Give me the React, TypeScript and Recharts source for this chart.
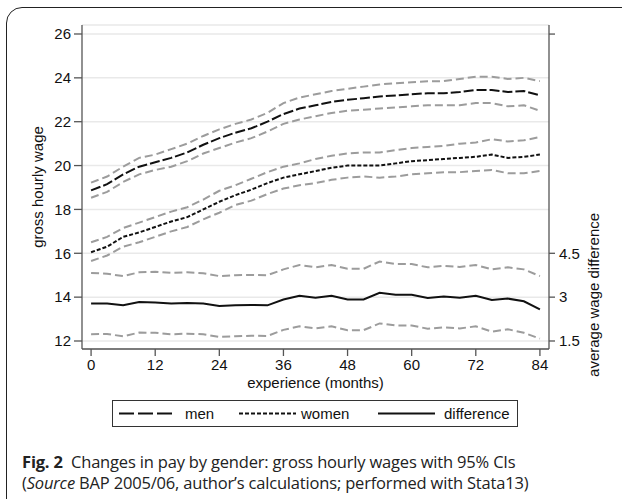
import React from "react";
import { LineChart, Line, XAxis, YAxis, CartesianGrid, Label } from "recharts";

// months, sampled every 3 months
const months = [0, 3, 6, 9, 12, 15, 18, 21, 24, 27, 30, 33, 36, 39, 42, 45, 48, 51, 54, 57, 60, 63, 66, 69, 72, 75, 78, 81, 84];

const men = [18.87, 19.15, 19.6, 19.95, 20.15, 20.35, 20.6, 20.95, 21.25, 21.5, 21.7, 22.0, 22.35, 22.6, 22.75, 22.9, 23.0, 23.07, 23.15, 23.2, 23.25, 23.3, 23.3, 23.35, 23.45, 23.45, 23.35, 23.4, 23.2];
const menHi = [19.22, 19.5, 19.95, 20.35, 20.5, 20.75, 21.0, 21.35, 21.65, 21.9, 22.1, 22.4, 22.85, 23.1, 23.25, 23.4, 23.5, 23.6, 23.7, 23.75, 23.8, 23.85, 23.85, 23.95, 24.05, 24.05, 23.95, 24.0, 23.85];
const menLo = [18.53, 18.8, 19.25, 19.6, 19.8, 19.95, 20.2, 20.55, 20.8, 21.05, 21.25, 21.55, 21.9, 22.1, 22.25, 22.4, 22.5, 22.55, 22.6, 22.65, 22.7, 22.75, 22.75, 22.75, 22.85, 22.85, 22.7, 22.75, 22.5];

const women = [16.05, 16.3, 16.75, 16.95, 17.2, 17.45, 17.65, 18.0, 18.35, 18.65, 18.9, 19.2, 19.45, 19.6, 19.75, 19.9, 20.0, 20.0, 20.0, 20.1, 20.2, 20.25, 20.3, 20.35, 20.4, 20.5, 20.35, 20.4, 20.5];
const womenHi = [16.5, 16.75, 17.15, 17.4, 17.65, 17.9, 18.1, 18.45, 18.85, 19.1, 19.4, 19.7, 19.95, 20.1, 20.3, 20.45, 20.55, 20.6, 20.6, 20.7, 20.8, 20.85, 20.9, 21.0, 21.05, 21.2, 21.1, 21.15, 21.3];
const womenLo = [15.65, 15.9, 16.3, 16.5, 16.75, 17.0, 17.2, 17.55, 17.85, 18.2, 18.4, 18.7, 18.95, 19.1, 19.2, 19.35, 19.45, 19.5, 19.45, 19.5, 19.6, 19.65, 19.7, 19.7, 19.75, 19.8, 19.65, 19.65, 19.75];

// difference is read on the right axis
const diff = [2.78, 2.78, 2.72, 2.83, 2.82, 2.78, 2.8, 2.78, 2.7, 2.72, 2.73, 2.72, 2.92, 3.05, 2.98, 3.05, 2.92, 2.92, 3.15, 3.08, 3.08, 2.97, 3.02, 2.98, 3.05, 2.9, 2.95, 2.86, 2.58];
const diffHi = [3.83, 3.8, 3.72, 3.85, 3.87, 3.83, 3.85, 3.82, 3.72, 3.75, 3.76, 3.75, 3.95, 4.1, 4.02, 4.1, 3.97, 3.97, 4.22, 4.13, 4.13, 4.02, 4.07, 4.03, 4.1, 3.95, 4.02, 3.95, 3.72];
const diffLo = [1.73, 1.74, 1.66, 1.79, 1.78, 1.73, 1.75, 1.73, 1.64, 1.66, 1.68, 1.67, 1.88, 2.0, 1.93, 2.0, 1.87, 1.87, 2.1, 2.03, 2.03, 1.92, 1.97, 1.93, 2.0, 1.82, 1.9, 1.78, 1.58];

const xTicks = [0, 12, 24, 36, 48, 60, 72, 84];
const leftTicks = [12, 14, 16, 18, 20, 22, 24, 26];
const rightTicks = [1.5, 3, 4.5, 12];

const data = months.map((m, i) => ({
  m,
  men: men[i],
  menHi: menHi[i],
  menLo: menLo[i],
  women: women[i],
  womenHi: womenHi[i],
  womenLo: womenLo[i],
  diff: diff[i],
  diffHi: diffHi[i],
  diffLo: diffLo[i],
}));

const FONT = "'Liberation Sans', Arial, Helvetica, sans-serif";
const AXIS = "#555";
const CI = "#9c9c9c";
const tickStyle = { fontSize: 15, fill: "#111", fontFamily: FONT };

const RightLabel = (props: any) => {
  const vb = props.viewBox || { x: 549, y: 25, width: 73, height: 324 };
  const cx = vb.x + 45;
  const cy = vb.y + vb.height * 0.833;
  return (
    <text
      x={cx}
      y={cy}
      transform={`rotate(-90 ${cx} ${cy})`}
      textAnchor="middle"
      dominantBaseline="central"
      fontSize={15}
      fontFamily={FONT}
      fill="#111"
    >
      average wage difference
    </text>
  );
};

const legendItems = [
  { label: "men", dash: "15 4", x: 6, tx: 72 },
  { label: "women", dash: "4 2", x: 126, tx: 188 },
  { label: "difference", dash: undefined, x: 265, tx: 331 },
];

export default function App() {
  return (
    <div
      style={{
        position: "absolute",
        left: 0,
        top: 0,
        width: 622,
        height: 499,
        overflow: "hidden",
        background: "#fff",
      }}
    >
      <div
        style={{
          position: "absolute",
          left: 6,
          top: 7,
          width: 650,
          height: 530,
          border: "1.5px solid #222",
          borderRadius: 16,
        }}
      />
      <div style={{ position: "absolute", left: 0, top: 0 }}>
        <LineChart
          width={622}
          height={400}
          data={data}
          margin={{ top: 25, right: 0, bottom: 25, left: 0 }}
        >
          <CartesianGrid
            yAxisId="left"
            vertical={false}
            stroke="#e9e9e9"
            strokeWidth={1.5}
          />
          <XAxis
            dataKey="m"
            type="number"
            domain={[-1.7, 85.7]}
            ticks={xTicks}
            allowDataOverflow
            height={26}
            tick={tickStyle}
            tickSize={7}
            tickMargin={3}
            stroke={AXIS}
            strokeWidth={1.3}
          >
            <Label
              value="experience (months)"
              position="bottom"
              offset={2}
              style={{ fontSize: 15, fontFamily: FONT, fill: "#111" }}
            />
          </XAxis>
          <YAxis
            yAxisId="left"
            domain={[11.635, 26.41]}
            ticks={leftTicks}
            allowDataOverflow
            width={82}
            tick={tickStyle}
            tickSize={8}
            tickMargin={3}
            stroke={AXIS}
            strokeWidth={1.3}
          >
            <Label
              value="gross hourly wage"
              angle={-90}
              position="insideLeft"
              offset={38}
              style={{ textAnchor: "middle", fontSize: 15, fontFamily: FONT, fill: "#111" }}
            />
          </YAxis>
          <YAxis
            yAxisId="right"
            orientation="right"
            domain={[1.226, 12.31]}
            ticks={rightTicks}
            allowDataOverflow
            width={73}
            tick={tickStyle}
            tickSize={6}
            tickMargin={4}
            tickFormatter={(v: number) => (v === 12 ? "" : String(v))}
            stroke={AXIS}
            strokeWidth={1.3}
          >
            <Label content={RightLabel} />
          </YAxis>

          <Line yAxisId="left" dataKey="menHi" stroke={CI} strokeWidth={2} strokeDasharray="8 4" dot={false} type="linear" isAnimationActive={false} />
          <Line yAxisId="left" dataKey="menLo" stroke={CI} strokeWidth={2} strokeDasharray="8 4" dot={false} type="linear" isAnimationActive={false} />
          <Line yAxisId="left" dataKey="womenHi" stroke={CI} strokeWidth={2} strokeDasharray="8 4" dot={false} type="linear" isAnimationActive={false} />
          <Line yAxisId="left" dataKey="womenLo" stroke={CI} strokeWidth={2} strokeDasharray="8 4" dot={false} type="linear" isAnimationActive={false} />
          <Line yAxisId="right" dataKey="diffHi" stroke={CI} strokeWidth={2} strokeDasharray="8 4" dot={false} type="linear" isAnimationActive={false} />
          <Line yAxisId="right" dataKey="diffLo" stroke={CI} strokeWidth={2} strokeDasharray="8 4" dot={false} type="linear" isAnimationActive={false} />

          <Line yAxisId="left" dataKey="men" stroke="#111" strokeWidth={2} strokeDasharray="10 3" dot={false} type="linear" isAnimationActive={false} />
          <Line yAxisId="left" dataKey="women" stroke="#111" strokeWidth={2} strokeDasharray="4 2" dot={false} type="linear" isAnimationActive={false} />
          <Line yAxisId="right" dataKey="diff" stroke="#111" strokeWidth={2} dot={false} type="linear" isAnimationActive={false} />
        </LineChart>
      </div>

      {/* legend box */}
      <div
        style={{
          position: "absolute",
          left: 112,
          top: 400,
          width: 406,
          height: 27,
          border: "1.5px solid #333",
          boxSizing: "border-box",
        }}
      >
        <svg width={403} height={24} style={{ position: "absolute", left: 0, top: 0 }}>
          {legendItems.map((it) => (
            <g key={it.label}>
              <line
                x1={it.x}
                x2={it.x + 57}
                y1={12.5}
                y2={12.5}
                stroke="#111"
                strokeWidth={2}
                strokeDasharray={it.dash}
              />
              <text
                x={it.tx}
                y={12.5}
                dominantBaseline="central"
                fontSize={15}
                fontFamily={FONT}
                fill="#111"
              >
                {it.label}
              </text>
            </g>
          ))}
        </svg>
      </div>

      {/* caption */}
      <div
        style={{
          position: "absolute",
          left: 22,
          top: 451,
          fontFamily: "'Open Sans', 'Noto Sans', sans-serif",
          fontSize: 16.5,
          lineHeight: "21px",
          color: "#222",
          letterSpacing: -0.18,
          whiteSpace: "nowrap",
        }}
      >
        <div>
          <b>Fig. 2</b>&nbsp;&nbsp;Changes in pay by gender: gross hourly wages with 95% CIs
        </div>
        <div>
          (<i>Source</i> BAP 2005/06, author’s calculations; performed with Stata13)
        </div>
      </div>
    </div>
  );
}
